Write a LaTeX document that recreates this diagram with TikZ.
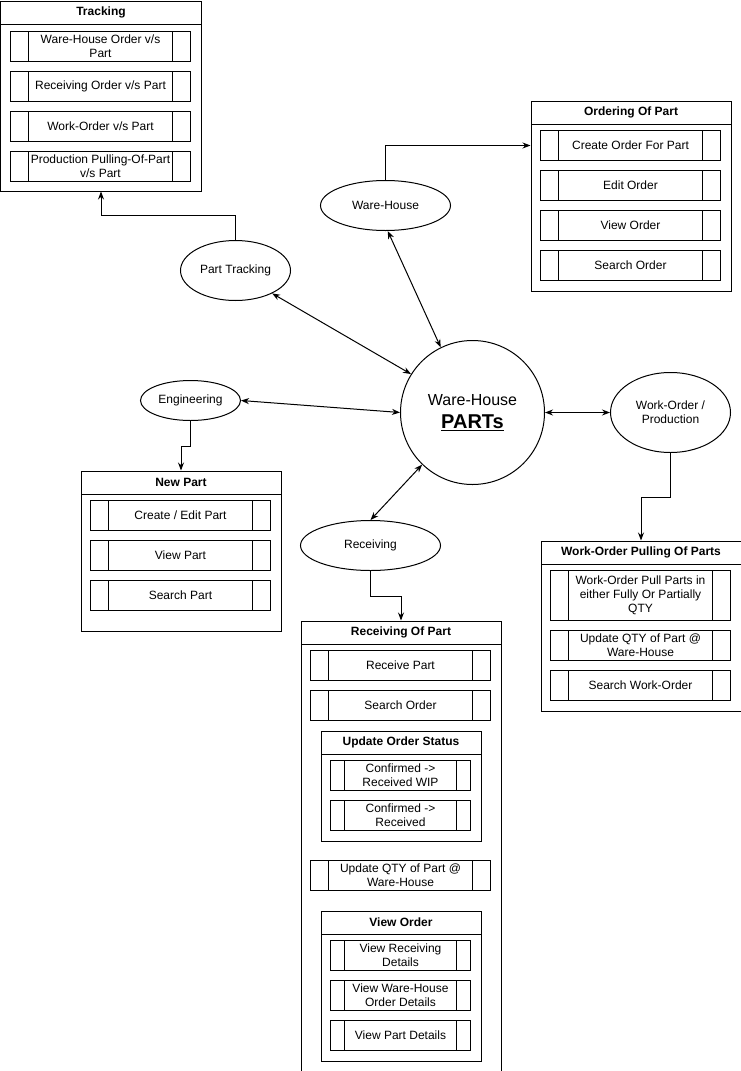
\documentclass[tikz,border=0pt]{standalone}
\usepackage{fontspec}
\setmainfont{Liberation Sans}
\usepackage{tikz}
\usetikzlibrary{arrows.meta,shapes.geometric}
\tikzset{
  lane/.style={draw, anchor=north west, inner sep=0pt},
  head/.style={draw, anchor=north west, inner sep=0pt, minimum height=23pt,
    font=\fontsize{12}{14}\selectfont\bfseries},
  proc/.style={draw, inner sep=0pt, minimum width=#1, minimum height=30pt, align=center,
    path picture={
      \draw ([xshift=0.1*#1]path picture bounding box.north west) -- ([xshift=0.1*#1]path picture bounding box.south west);
      \draw ([xshift=-0.1*#1]path picture bounding box.north east) -- ([xshift=-0.1*#1]path picture bounding box.south east);}},
  proc/.default=180pt,
  bubble/.style={draw, ellipse, inner sep=0pt, align=center},
  oneway/.style={-{Stealth[length=8pt,width=6pt]}},
  twoway/.style={{Stealth[length=8pt,width=6pt]}-{Stealth[length=8pt,width=6pt]}}
}

\begin{document}
\begin{tikzpicture}[x=1pt,y=-1pt,line width=1pt,every node/.style={font=\fontsize{12}{14}\selectfont}]
   \useasboundingbox (-0.5,-0.5) rectangle (740.5,1070.5);

   % tracking
   \node[lane, minimum width=200pt, minimum height=190pt] (trk) at (0,0) {};
   \node[head, minimum width=200pt] (trkT) at (0,0) {Tracking};
   \node[proc] (trk1) at (100,46) {Ware-House Order v/s\\Part};
   \node[proc] (trk2) at (100,86) {Receiving Order v/s Part};
   \node[proc] (trk3) at (100,126) {Work-Order v/s Part};
   \node[proc] (trk4) at (100,166) {Production Pulling-Of-Part\\v/s Part};

   % ordering
   \node[lane, minimum width=200pt, minimum height=190pt] (ord) at (530,100) {};
   \node[head, minimum width=200pt] (ordT) at (530,100) {Ordering Of Part};
   \node[proc] (ord1) at (630,145) {Create Order For Part};
   \node[proc] (ord2) at (630,185) {Edit Order};
   \node[proc] (ord3) at (630,225) {View Order};
   \node[proc] (ord4) at (630,265) {Search Order};

   % new part
   \node[lane, minimum width=200pt, minimum height=160pt] (np) at (80,470) {};
   \node[head, minimum width=200pt] (npT) at (80,470) {New Part};
   \node[proc] (np1) at (180,515) {Create / Edit Part};
   \node[proc] (np2) at (180,555) {View Part};
   \node[proc] (np3) at (180,595) {Search Part};

   % work-order pulling
   \node[lane, minimum width=200pt, minimum height=170pt] (wop) at (540,540) {};
   \node[head, minimum width=200pt] (wopT) at (540,540) {Work-Order Pulling Of Parts};
   \node[proc, minimum height=50pt] (wop1) at (640,595) {Work-Order Pull Parts in\\either Fully Or Partially\\QTY};
   \node[proc] (wop2) at (640,645) {Update QTY of Part @\\Ware-House};
   \node[proc] (wop3) at (640,685) {Search Work-Order};

   % receiving
   \node[lane, minimum width=200pt, minimum height=450pt] (rop) at (300,620) {};
   \node[head, minimum width=200pt] (ropT) at (300,620) {Receiving Of Part};
   \node[proc] (rop1) at (400,665) {Receive Part};
   \node[proc] (rop2) at (400,705) {Search Order};
   \node[lane, minimum width=160pt, minimum height=110pt] (uos) at (320,730) {};
   \node[head, minimum width=160pt] (uosT) at (320,730) {Update Order Status};
   \node[proc=140pt] (uos1) at (400,775) {Confirmed ->\\Received WIP};
   \node[proc=140pt] (uos2) at (400,815) {Confirmed ->\\Received};
   \node[proc] (rop3) at (400,875) {Update QTY of Part @\\Ware-House};
   \node[lane, minimum width=160pt, minimum height=150pt] (vo) at (320,910) {};
   \node[head, minimum width=160pt] (voT) at (320,910) {View Order};
   \node[proc=140pt] (vo1) at (400,955) {View Receiving\\Details};
   \node[proc=140pt] (vo2) at (400,995) {View Ware-House\\Order Details};
   \node[proc=140pt] (vo3) at (400,1035) {View Part Details};

   % actors
   \node[bubble, minimum width=130pt, minimum height=50pt] (wh) at (385,205) {Ware-House};
   \node[bubble, minimum width=110pt, minimum height=60pt] (pt) at (235,270) {Part Tracking};
   \node[bubble, minimum width=100pt, minimum height=40pt] (eng) at (190,400) {Engineering};
   \node[bubble, minimum width=140pt, minimum height=50pt] (rec) at (370,545) {Receiving};
   \node[bubble, minimum width=120pt, minimum height=80pt] (wo) at (670,412) {Work-Order /\\Production};
   \node[draw, circle, minimum size=144pt, inner sep=0pt, align=center, font=\fontsize{16}{23}\selectfont] (parts) at (472,412)
      {Ware-House\\{\fontsize{20}{23}\selectfont\bfseries\underline{PARTs}}};

   \draw[twoway] (parts.116) -- (wh.-85);
   \draw[twoway] (parts.148) -- (pt.-32);
   \draw[twoway] (parts.west) -- (eng.east);
   \draw[twoway] (parts.226) -- (rec.north);
   \draw[twoway] (parts.east) -- (wo.west);

   \draw[oneway] (pt.north) -- ++(0,-25) -| (trk.south);
   \draw[oneway] (wh.north) |- (ord.west |- ord1);
   \draw[oneway] (eng.south) -- ++(0,25) -| (np.north);
   \draw[oneway] (wo.south) -- ++(0,44) -| (wop.north);
   \draw[oneway] (rec.south) -- ++(0,25) -| (rop.north);
\end{tikzpicture}
\end{document}
